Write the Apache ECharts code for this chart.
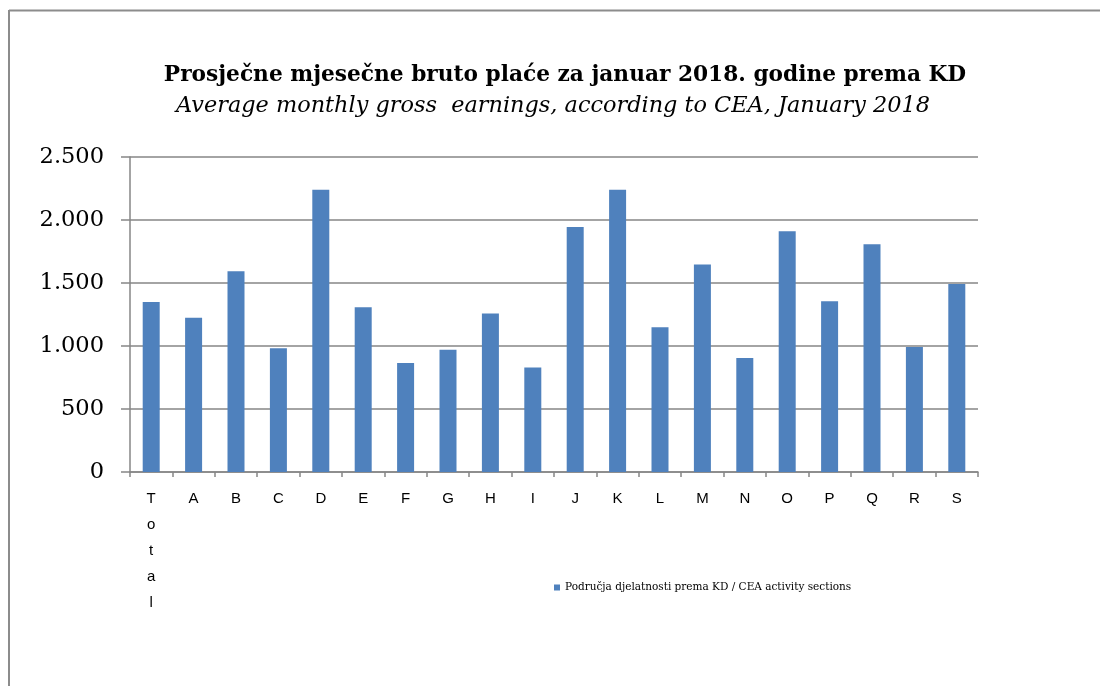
<!DOCTYPE html>
<html>
<head>
<meta charset="utf-8">
<script src="https://cdn.jsdelivr.net/npm/echarts@6/dist/echarts.min.js"></script>
<style>
html,body{margin:0;padding:0;background:#fff;}
#chart{width:1100px;height:686px;}
</style>
</head>
<body>
<div id="chart"></div>
<script>
const titleText = 'Prosječne mjesečne bruto plaće za januar 2018. godine prema KD';
const subtitleText = 'Average monthly gross  earnings, according to CEA, January 2018';
const seriesName = 'Područja djelatnosti prema KD / CEA activity sections';
const categories = ['Total','A','B','C','D','E','F','G','H','I','J','K','L','M','N','O','P','Q','R','S'];
const values = [1349, 1225, 1593, 982, 2241, 1307, 865, 971, 1257, 829, 1944, 2241, 1148, 1646, 905, 1910, 1355, 1807, 992, 1492];
const yMin = 0, yMax = 2500, yStep = 500;

const chart = echarts.init(document.getElementById('chart'));
const gray = '#868686';
chart.setOption({
  animation: false,
  backgroundColor: '#fff',
  graphic: [
    {type:'line', shape:{x1:9, y1:10.5, x2:1100, y2:10.5}, style:{stroke:'#8c8c8c', lineWidth:2}},
    {type:'line', shape:{x1:9, y1:10, x2:9, y2:686}, style:{stroke:'#8c8c8c', lineWidth:2}}
  ],
  title: [
    {text: titleText, left: 560, top: 59, textAlign: 'center',
     textStyle:{fontFamily:'DejaVu Serif', fontWeight:'bold', fontSize:21.7, color:'#000'}},
    {text: subtitleText, left: 548, top: 90, textAlign: 'center',
     textStyle:{fontFamily:'DejaVu Serif', fontStyle:'italic', fontWeight:'normal', fontSize:22.4, color:'#000'}}
  ],
  legend: {
    data: [seriesName], left: 549, top: 577, icon: 'rect', itemWidth: 6, itemHeight: 6,
    textStyle:{fontFamily:'DejaVu Serif', fontSize:10.5, color:'#000'}
  },
  grid: {left: 130, right: 122, top: 157, bottom: 214, containLabel: false},
  xAxis: {
    type: 'category', data: categories,
    axisLine: {lineStyle:{color: gray, width: 1.5}},
    axisTick: {show: true, length: 5, lineStyle:{color: gray, width: 1.5}},
    axisLabel: {
      margin: 14, lineHeight: 26, interval: 0,
      fontFamily: 'Liberation Sans', fontSize: 15, color: '#000',
      formatter: v => v.split('').join('\n')
    }
  },
  yAxis: {
    type: 'value', min: yMin, max: yMax, interval: yStep,
    axisLine: {show: true, lineStyle:{color: gray, width: 1.5}},
    axisTick: {show: true, length: 9, lineStyle:{color: gray, width: 1.5}},
    splitLine: {lineStyle:{color: gray, width: 1.5}},
    axisLabel: {
      margin: 26, fontFamily: 'DejaVu Serif', fontSize: 22.5, color: '#000',
      formatter: v => v.toLocaleString('de-DE')
    }
  },
  series: [{
    name: seriesName, type: 'bar', data: values, barWidth: 17,
    itemStyle: {color: '#4F81BD'}
  }]
});
</script>
</body>
</html>
